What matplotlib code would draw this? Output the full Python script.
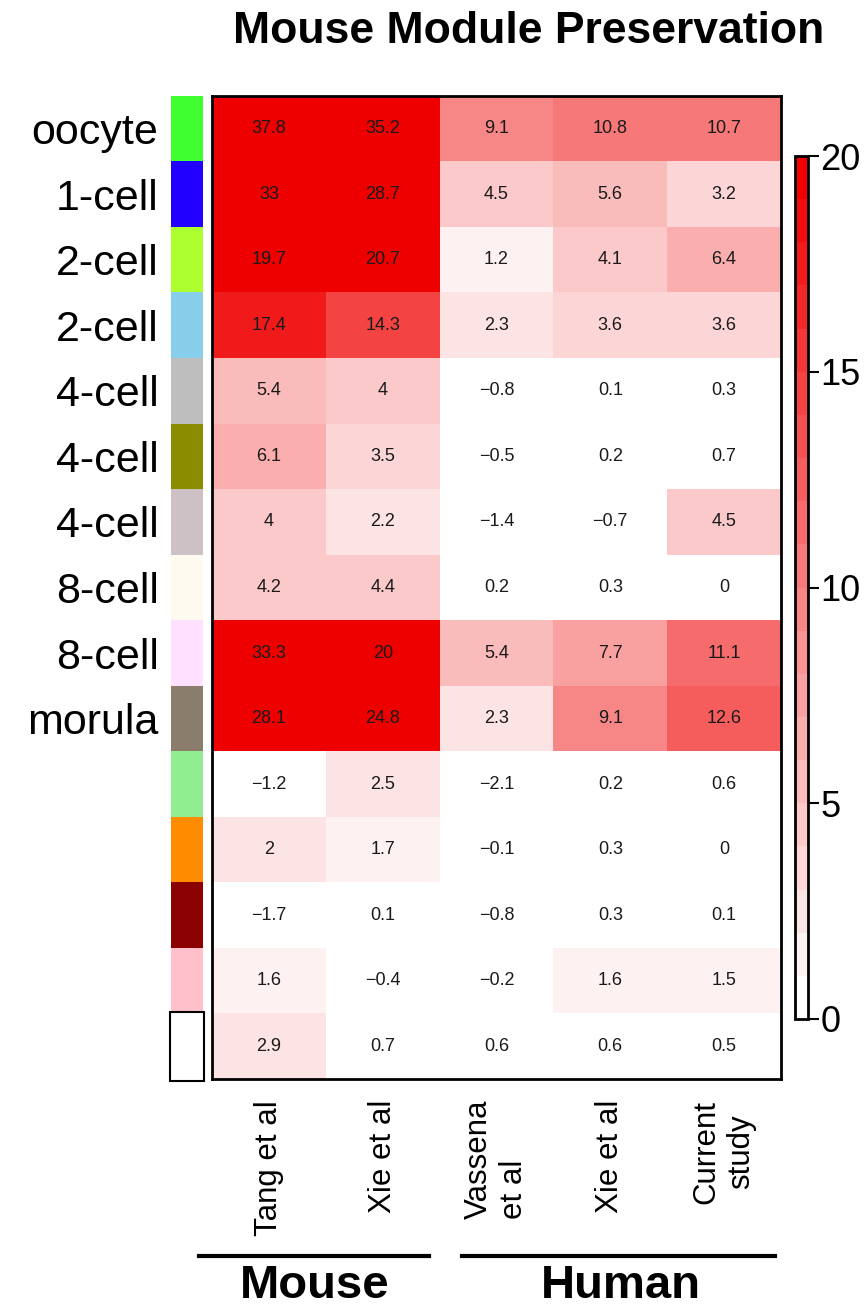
import numpy as np
import matplotlib
matplotlib.use("Agg")
import matplotlib.pyplot as plt
from matplotlib.colors import ListedColormap, Normalize, to_rgb
from matplotlib.patches import Rectangle
from matplotlib.lines import Line2D

plt.rcParams['font.family'] = ['Liberation Sans', 'DejaVu Sans']

# ---------------- data ----------------
columns = ["Tang et al", "Xie et al", "Vassena\net al", "Xie et al", "Current\nstudy"]
col_align = ["center", "center", "left", "center", "center"]
row_labels = ["oocyte", "1-cell", "2-cell", "2-cell", "4-cell", "4-cell", "4-cell",
              "8-cell", "8-cell", "morula", "", "", "", "", ""]
module_colors = ["#40FF30", "#2200FF", "#ADFF2F", "#87CEEB", "#BEBEBE", "#8B8B00",
                 "#CDC1C5", "#FFFAF0", "#FFE1FF", "#8B7D6B", "#90EE90", "#FF8C00",
                 "#8B0000", "#FFC0CB", "#FFFFFF"]
tang_mouse = [37.8, 33, 19.7, 17.4, 5.4, 6.1, 4, 4.2, 33.3, 28.1, -1.2, 2, -1.7, 1.6, 2.9]
xie_mouse = [35.2, 28.7, 20.7, 14.3, 4, 3.5, 2.2, 4.4, 20, 24.8, 2.5, 1.7, 0.1, -0.4, 0.7]
vassena_human = [9.1, 4.5, 1.2, 2.3, -0.8, -0.5, -1.4, 0.2, 5.4, 2.3, -2.1, -0.1, -0.8, -0.2, 0.6]
xie_human = [10.8, 5.6, 4.1, 3.6, 0.1, 0.2, -0.7, 0.3, 7.7, 9.1, 0.2, 0.3, 0.3, 1.6, 0.6]
current_study = [10.7, 3.2, 6.4, 3.6, 0.3, 0.7, 4.5, 0, 11.1, 12.6, 0.6, 0, 0.1, 1.5, 0.5]
groups = ["Mouse", "Human"]
cbar_ticks = [0, 5, 10, 15, 20]

Z = np.array([tang_mouse, xie_mouse, vassena_human, xie_human, current_study]).T
nrow, ncol = Z.shape

# ---------------- colormap ----------------
red = np.array([0.94, 0.0, 0.0])
white = np.array([1.0, 1.0, 1.0])
levels = np.linspace(0, 1, 20)
cols = [white + (red - white) * t for t in levels]
cmap = ListedColormap(cols)
cmap.set_under("white")
cmap.set_over(tuple(red))
norm = Normalize(vmin=0, vmax=20)

# ---------------- figure ----------------
W, H = 866, 1308
fig = plt.figure(figsize=(W / 100, H / 100), dpi=100)


def rect(x0, y0, x1, y1):
    return [x0 / W, 1 - y1 / H, (x1 - x0) / W, (y1 - y0) / H]


ax = fig.add_axes(rect(212, 96, 781, 1079))
ax.imshow(Z, cmap=cmap, norm=norm, aspect="auto", interpolation="nearest")
for i in range(nrow):
    for j in range(ncol):
        v = Z[i, j]
        s = ("%g" % v).replace("-", "\u2212")
        ax.text(j, i, s, ha="center", va="center", fontsize=13, color="#1a1a1a")
ax.set_yticks([])
ax.set_xticks(range(ncol))
ax.set_xticklabels(columns, rotation=90, fontsize=22.5)
for lab, al in zip(ax.get_xticklabels(), col_align):
    lab.set_multialignment(al)
ax.tick_params(axis="x", length=0, pad=15)
for sp in ax.spines.values():
    sp.set_linewidth(2)
    sp.set_color("black")

# module color strip
ax_s = fig.add_axes(rect(171, 96, 203, 1079))
rgb = np.array([[to_rgb(c)] for c in module_colors])
ax_s.imshow(rgb, aspect="auto", interpolation="nearest")
ax_s.set_xticks([])
ax_s.set_yticks(range(nrow))
ax_s.set_yticklabels(row_labels, fontsize=31)
ax_s.tick_params(axis="y", length=0, pad=9)
for sp in ax_s.spines.values():
    sp.set_visible(False)
ax_s.add_patch(Rectangle((-0.53, nrow - 1.53), 1.06, 1.06, facecolor="white",
                         edgecolor="black", linewidth=1.5, clip_on=False))

# colorbar
cax = fig.add_axes(rect(795, 156, 808, 1019))
sm = matplotlib.cm.ScalarMappable(norm=norm, cmap=cmap)
cb = fig.colorbar(sm, cax=cax, ticks=cbar_ticks)
cb.outline.set_linewidth(2)
cb.ax.tick_params(labelsize=26, length=8, width=1.5, pad=1)

# title
fig.text(529 / W, 1 - 43 / H, "Mouse Module Preservation", ha="center", va="baseline",
         fontsize=32, fontweight="bold")

# group lines and labels
for name, (x0, x1), xc in zip(groups, [(199, 429), (462, 775)], [315, 621]):
    fig.add_artist(Line2D([x0 / W, x1 / W], [1 - 1256 / H, 1 - 1256 / H],
                          color="black", linewidth=3))
    fig.text(xc / W, 1 - 1286 / H, name, ha="center", va="center",
             fontsize=34, fontweight="bold")

fig.savefig("out.png", dpi=100)
